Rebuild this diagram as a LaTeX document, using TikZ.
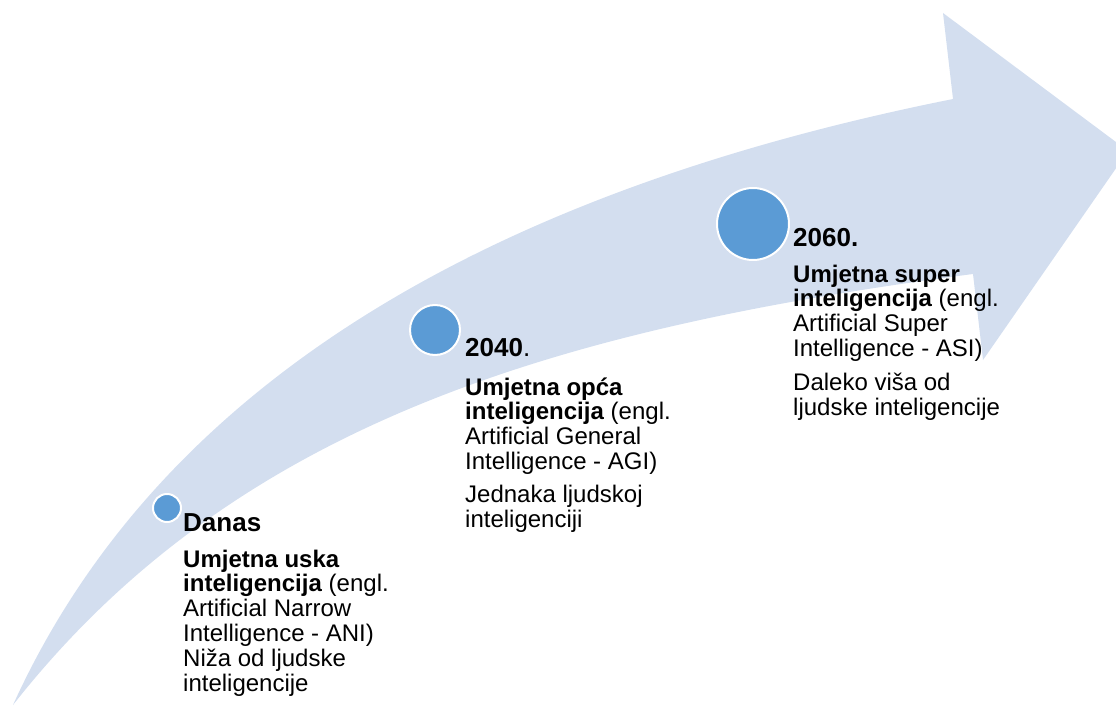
\documentclass[tikz,border=0pt]{standalone}
\usepackage{fontspec}
\setmainfont{Liberation Sans}
\definecolor{arrowfill}{RGB}{211,222,239}
\definecolor{dotblue}{RGB}{91,155,213}
\newcommand\lines[1]{\begin{tabular}[t]{@{}l@{}}#1\end{tabular}}
\tikzset{
  dot/.style={circle, fill=dotblue, draw=white, line width=2pt, inner sep=0pt},
  year/.style={anchor=base west, inner sep=0pt, font=\fontsize{26}{30}\selectfont\bfseries},
  desc/.style={anchor=base west, inner sep=0pt, font=\fontsize{24}{24.7}\selectfont}
}

\begin{document}
\begin{tikzpicture}[x=1pt,y=-1pt]
  \useasboundingbox (0,0) rectangle (1116,706);
  \clip (0,0) rectangle (1116,706);

  % curved arrow
  \coordinate (tail) at (13,705);
  \fill[arrowfill] (tail) .. controls (163,375) and (503,189) .. (953,99)
    -- (943,13) -- (1128,151) -- (983,360) -- (973,274)
    .. controls (553,329) and (233,425) .. (tail) -- cycle;

  % milestones
  \node[dot, minimum size=28pt] (danas) at (167,508) {};
  \node[dot, minimum size=50pt] (agi) at (435,330) {};
  \node[dot, minimum size=72pt] (asi) at (753,224) {};

  \node[year] (tdanas) at (183,531) {Danas};
  \node[desc] (bdanas) at ([yshift=-36pt]tdanas.base west)
    {\lines{\textbf{Umjetna uska}\\ \textbf{inteligencija} (engl.\\ Artificial Narrow\\ Intelligence - ANI)\\ Niža od ljudske\\ inteligencije}};

  \node[year] (tagi) at (465,356) {2040\mdseries.};
  \node[desc] (bagi) at ([yshift=-39pt]tagi.base west)
    {\lines{\textbf{Umjetna opća}\\ \textbf{inteligencija} (engl.\\ Artificial General\\ Intelligence - AGI)\\[8pt] Jednaka ljudskoj\\ inteligenciji}};

  \node[year] (tasi) at (793,246) {2060.};
  \node[desc] (basi) at ([yshift=-36pt]tasi.base west)
    {\lines{\textbf{Umjetna super}\\ \textbf{inteligencija} (engl.\\ Artificial Super\\ Intelligence - ASI)\\[9pt] Daleko viša od\\ ljudske inteligencije}};
\end{tikzpicture}
\end{document}
